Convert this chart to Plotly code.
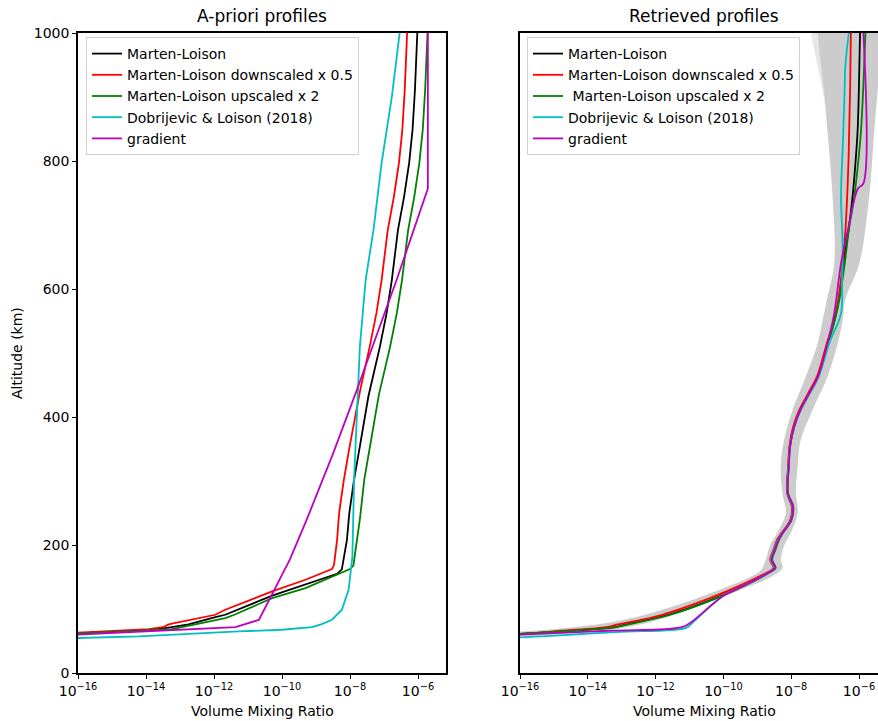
import numpy as np
import plotly.graph_objects as go

# ---------------- data (log10 of volume mixing ratio vs altitude in km) ----------------
series_names = ["Marten-Loison", "Marten-Loison downscaled x 0.5", "Marten-Loison upscaled x 2",
                "Dobrijevic & Loison (2018)", "gradient"]
series_names_right = ["Marten-Loison", "Marten-Loison downscaled x 0.5", "\u00a0Marten-Loison upscaled x 2",
                      "Dobrijevic & Loison (2018)", "gradient"]
colors = ["#000000", "#ff0000", "#008000", "#00bfbf", "#bf00bf"]
titles = ["A-priori profiles", "Retrieved profiles"]
x_tick_exp = [-16, -14, -12, -10, -8, -6]
y_ticks = [0, 200, 400, 600, 800, 1000]

# A-priori profiles
ap_black_alt = [50, 62.5, 66.6, 71.8, 76, 87.4, 91, 121, 138, 155, 162, 208, 250, 302, 354, 432, 510, 563, 614, 640, 692, 744, 797, 849, 911, 1000]
ap_black_log = [-21, -15.98, -13.92, -13.24, -12.75, -11.96, -11.67, -10.29, -9.31, -8.38, -8.24, -8.09, -8.02, -7.88, -7.71, -7.46, -7.12, -6.92, -6.77, -6.71, -6.59, -6.41, -6.26, -6.16, -6.09, -6.02]

ap_red_alt = [50, 63.4, 68.7, 71.5, 75.5, 77, 91, 98.9, 127.5, 145.7, 162.4, 169, 208, 250, 302, 354, 442, 510, 563, 614, 640, 692, 744, 797, 849, 911, 1000]
ap_red_log = [-21, -15.98, -13.92, -13.5, -13.35, -13.24, -11.96, -11.67, -10.29, -9.31, -8.53, -8.47, -8.38, -8.32, -8.18, -8.01, -7.70, -7.42, -7.22, -7.07, -7.01, -6.89, -6.71, -6.56, -6.46, -6.39, -6.32]

ap_green_alt = [50, 61.8, 68.7, 76, 85.9, 91, 117, 132.7, 162.4, 168, 240, 302, 354, 435, 510, 563, 614, 640, 692, 744, 797, 849, 911, 1000]
ap_green_log = [-21, -15.98, -13.24, -12.55, -11.67, -11.4, -10.29, -9.31, -8.0, -7.90, -7.71, -7.58, -7.41, -7.15, -6.82, -6.62, -6.47, -6.41, -6.29, -6.11, -5.96, -5.86, -5.79, -5.72]

ap_cyan_alt = [45, 54.7, 57.2, 65, 67.6, 71.8, 76, 83.2, 98.9, 130, 182, 302, 406, 510, 614, 692, 797, 900, 1000]
ap_cyan_log = [-23, -15.98, -14.2, -11.27, -10.0, -9.12, -8.85, -8.53, -8.24, -8.04, -7.93, -7.88, -7.80, -7.71, -7.54, -7.31, -7.07, -6.77, -6.54]

ap_mag_alt = [45, 60.3, 66.6, 71.8, 83, 130, 177, 240, 291, 344, 442, 614, 757, 1000]
ap_mag_log = [-22, -15.98, -13.7, -11.37, -10.68, -10.22, -9.77, -9.27, -8.88, -8.49, -7.80, -6.63, -5.71, -5.71]

# Retrieved profiles
rt_alt = [50, 61, 66, 71.8, 75.4, 91, 117, 140.5, 156, 164, 177, 193, 208, 219, 239, 260, 281, 323, 355, 385, 411, 437, 463, 515, 552, 583, 640, 692, 744, 800, 848, 920, 1000]
rt_black_log = [-21, -16.0, -14.5, -13.19, -12.9, -11.61, -10.23, -9.25, -8.70, -8.50, -8.60, -8.50, -8.40, -8.26, -8.01, -7.96, -8.11, -8.08, -8.04, -7.92, -7.74, -7.48, -7.22, -6.93, -6.72, -6.60, -6.46, -6.31, -6.19, -6.10, -6.04, -6.00, -5.97]
rt_red_log = [-21, -16.0, -14.8, -13.45, -13.15, -11.8, -10.4, -9.35, -8.75, -8.52, -8.62, -8.52, -8.42, -8.28, -8.03, -7.98, -8.12, -8.09, -8.05, -7.94, -7.76, -7.50, -7.24, -6.95, -6.73, -6.61, -6.48, -6.40, -6.35, -6.31, -6.29, -6.26, -6.24]
rt_green_log = [-21, -16.0, -14.5, -13.15, -12.85, -11.57, -10.2, -9.22, -8.68, -8.46, -8.56, -8.46, -8.36, -8.24, -7.99, -7.94, -8.09, -8.07, -8.03, -7.91, -7.72, -7.46, -7.20, -6.91, -6.71, -6.58, -6.42, -6.30, -6.14, -6.02, -5.94, -5.87, -5.81]

rt_cyan_alt = [45, 55.6, 64, 70.5, 78, 119.6, 140.5, 156, 164, 177, 193, 208, 219, 239, 260, 281, 323, 355, 385, 411, 437, 463, 515, 562, 610, 666, 744, 822, 900, 950, 1000]
rt_cyan_log = [-22, -16.0, -13.2, -11.1, -10.92, -10.03, -9.25, -8.70, -8.50, -8.60, -8.50, -8.40, -8.26, -8.01, -7.96, -8.11, -8.08, -8.03, -7.91, -7.72, -7.45, -7.19, -6.88, -6.53, -6.50, -6.48, -6.53, -6.48, -6.43, -6.40, -6.30]

rt_mag_alt = [45, 60, 66, 71.8, 80.6, 119.6, 140.5, 156, 164, 177, 193, 208, 219, 239, 260, 281, 323, 355, 385, 411, 437, 463, 515, 562, 640, 692, 757, 765, 1000]
rt_mag_log = [-22, -16.0, -13.4, -11.22, -10.92, -10.03, -9.25, -8.70, -8.48, -8.58, -8.48, -8.38, -8.25, -8.00, -7.95, -8.10, -8.07, -8.03, -7.91, -7.73, -7.47, -7.21, -6.93, -6.73, -6.53, -6.33, -6.03, -5.87, -5.87]

# uncertainty envelope (left/upper edge and right/lower edge)
band_left_alt = [66, 65, 80.6, 102, 149, 160, 177, 200, 219, 250, 281, 323, 364, 411, 463, 515, 552, 583, 640, 744, 848, 894, 927, 1000, 1010]
band_left_log = [-17, -16, -13.19, -11.61, -9.25, -8.9, -8.75, -8.62, -8.41, -8.16, -8.26, -8.31, -8.21, -7.96, -7.57, -7.22, -7.07, -6.95, -6.73, -6.78, -6.93, -7.0, -7.07, -7.22, -7.22]
band_right_alt = [55, 57, 68.7, 88, 135, 150, 165, 177, 200, 219, 250, 281, 323, 364, 411, 463, 515, 552, 583, 640, 744, 848, 927, 1000, 1010]
band_right_log = [-17, -16, -13.19, -11.61, -9.25, -8.6, -8.25, -8.31, -8.2, -8.01, -7.81, -7.86, -7.81, -7.72, -7.37, -6.93, -6.63, -6.48, -6.41, -5.99, -5.70, -5.55, -5.42, -5.3, -5.3]
light_alt = [848, 894, 927, 1000, 1010, 1010, 848]
light_log = [-6.93, -7.02, -7.14, -7.42, -7.42, -6.5, -6.5]


def vmr(logs):
    return np.power(10.0, np.array(logs, dtype=float))


FONT = "DejaVu Sans"
FS = 14
fig = go.Figure()

# ---- left panel
apriori = [(ap_black_alt, ap_black_log), (ap_red_alt, ap_red_log), (ap_green_alt, ap_green_log),
           (ap_cyan_alt, ap_cyan_log), (ap_mag_alt, ap_mag_log)]
for (alt, lg), name, col in zip(apriori, series_names, colors):
    fig.add_trace(go.Scatter(x=vmr(lg), y=alt, mode="lines", name=name,
                             line=dict(color=col, width=1.8), xaxis="x", yaxis="y",
                             legend="legend"))

# ---- right panel band
fig.add_trace(go.Scatter(x=vmr(light_log), y=light_alt, mode="lines", fill="toself",
                         fillcolor="#e6e6e6", line=dict(width=0), showlegend=False,
                         hoverinfo="skip", xaxis="x2", yaxis="y2"))
band_x = list(vmr(band_left_log)) + list(vmr(band_right_log))[::-1]
band_y = list(band_left_alt) + list(band_right_alt)[::-1]
fig.add_trace(go.Scatter(x=band_x, y=band_y, mode="lines", fill="toself",
                         fillcolor="#cccccc", line=dict(width=0, shape="spline", smoothing=1.0),
                         showlegend=False, hoverinfo="skip", xaxis="x2", yaxis="y2"))

retrieved = [(rt_alt, rt_black_log), (rt_alt, rt_red_log), (rt_alt, rt_green_log),
             (rt_cyan_alt, rt_cyan_log), (rt_mag_alt, rt_mag_log)]
for (alt, lg), name, col in zip(retrieved, series_names_right, colors):
    fig.add_trace(go.Scatter(x=vmr(lg), y=alt, mode="lines", name=name,
                             line=dict(color=col, width=1.8, shape="spline", smoothing=1.0),
                             xaxis="x2", yaxis="y2", legend="legend2"))

tickvals = [10.0 ** e for e in x_tick_exp]
ticktext = ["10<sup>\u2212%d</sup>" % (-e) for e in x_tick_exp]

axis_common = dict(showline=True, linecolor="black", linewidth=1.6, ticks="outside",
                   ticklen=4, tickwidth=1.2, tickcolor="black", showgrid=False,
                   zeroline=False, tickfont=dict(family=FONT, size=FS, color="black"))

W, H = 878, 721
ML, MR, MT, MB = 78, 0, 33, 48
PW = W - ML - MR
PH = H - MT - MB
d1 = [0, 368 / PW]
d2 = [(520 - ML) / PW, 1.0]

legend_common = dict(y=1 - 4 / PH, xanchor="left", yanchor="top",
                     bgcolor="rgba(255,255,255,0.85)", bordercolor="#d0d0d0", borderwidth=1,
                     font=dict(family=FONT, size=FS), itemwidth=30, tracegroupgap=0)

fig.update_layout(
    width=W, height=H,
    margin=dict(l=ML, r=MR, t=MT, b=MB, pad=0),
    plot_bgcolor="white", paper_bgcolor="white",
    font=dict(family=FONT, size=FS, color="black"),
    xaxis=dict(type="log", domain=d1, range=[-16, -16 + 368 / 34.0], tickvals=tickvals,
               ticktext=ticktext, mirror=True, anchor="y", **axis_common),
    yaxis=dict(domain=[0, 1], range=[0, 1000], tickvals=y_ticks, mirror=True,
               anchor="x", **axis_common),
    xaxis2=dict(type="log", domain=d2, range=[-16, -16 + 358 / 33.9], tickvals=tickvals,
                ticktext=ticktext, mirror=True, anchor="y2", **axis_common),
    yaxis2=dict(domain=[0, 1], range=[0, 1000], showline=True, linecolor="black",
                linewidth=1.6, ticks="", showticklabels=False, showgrid=False,
                zeroline=False, anchor="x2", mirror=False),
    legend=dict(x=(86 - ML) / PW, **legend_common),
    legend2=dict(x=(527 - ML) / PW, **legend_common),
    showlegend=True,
)

annotations = []
for dom, title in zip([d1, d2], titles):
    xc = (dom[0] + dom[0] + 368 / PW) / 2
    annotations.append(dict(text=title, x=xc, y=1, xref="paper", yref="paper",
                            xanchor="center", yanchor="bottom", yshift=5, showarrow=False,
                            font=dict(family=FONT, size=17, color="black")))
    annotations.append(dict(text="Volume Mixing Ratio", x=xc,
                            y=-(711 - (MT + PH)) / PH, xref="paper", yref="paper",
                            xanchor="center", yanchor="middle", showarrow=False,
                            font=dict(family=FONT, size=FS, color="black")))
annotations.append(dict(text="Altitude (km)", x=(17 - ML) / PW, y=0.5, xref="paper", yref="paper",
                        xanchor="center", yanchor="middle", textangle=-90, showarrow=False,
                        font=dict(family=FONT, size=FS, color="black")))
fig.update_layout(annotations=annotations)

fig.write_html("out.html")
